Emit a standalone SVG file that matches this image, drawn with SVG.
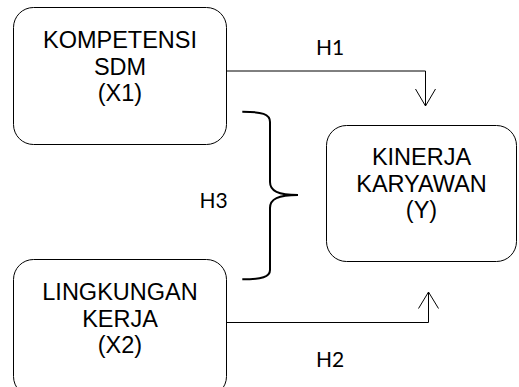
<svg xmlns="http://www.w3.org/2000/svg" width="519" height="387" viewBox="0 0 519 387">
  <defs>
    <style>
      .box { fill: #ffffff; stroke: #000000; stroke-width: 1; }
      .lbl { font-family: "Liberation Sans", Arial, sans-serif; font-size: 23.5px; fill: #000000; text-anchor: middle; }
      .hyp { font-family: Lato, "Open Sans", sans-serif; font-size: 21px; fill: #000000; text-anchor: middle; }
      .conn { fill: none; stroke: #000000; stroke-width: 1; }
      .brace { fill: none; stroke: #000000; stroke-width: 2; }
    </style>
  </defs>
  <rect width="519" height="387" fill="#ffffff"/>

  <g id="node-x1">
    <rect class="box" x="13.5" y="7.5" width="213" height="137" rx="20" ry="20"/>
    <text class="lbl" x="120" y="48">KOMPETENSI</text>
    <text class="lbl" x="120" y="74.5">SDM</text>
    <text class="lbl" x="120" y="101">(X1)</text>
  </g>

  <g id="node-x2">
    <rect class="box" x="13.5" y="259.5" width="213" height="137" rx="20" ry="20"/>
    <text class="lbl" x="120" y="300">LINGKUNGAN</text>
    <text class="lbl" x="120" y="326.5">KERJA</text>
    <text class="lbl" x="120" y="353">(X2)</text>
  </g>

  <g id="node-y">
    <rect class="box" x="326.5" y="125.5" width="190" height="136" rx="20" ry="20"/>
    <text class="lbl" x="421.5" y="165">KINERJA</text>
    <text class="lbl" x="421.5" y="191.5">KARYAWAN</text>
    <text class="lbl" x="421.5" y="218">(Y)</text>
  </g>

  <g id="connectors">
    <path class="conn" d="M226.5,71 H425.5 V106"/>
    <path class="conn" d="M415.5,89 L425.5,106 L435.5,89"/>
    <path class="conn" d="M226.5,322.5 H428.5 V292"/>
    <path class="conn" d="M418.5,308.5 L428.5,292 L438.5,308.5"/>
    <path class="brace" d="M242.3,111.7 C262,111.7 270,114 270,122 L270,182 C270,191 278,195 298,195 C278,195 270,199 270,208 L270,270 C270,277 262,279.3 242.3,279.3"/>
  </g>

  <g id="labels">
    <text class="hyp" x="330" y="55">H1</text>
    <text class="hyp" x="330" y="366.5">H2</text>
    <text class="hyp" x="213.5" y="208">H3</text>
  </g>
</svg>
